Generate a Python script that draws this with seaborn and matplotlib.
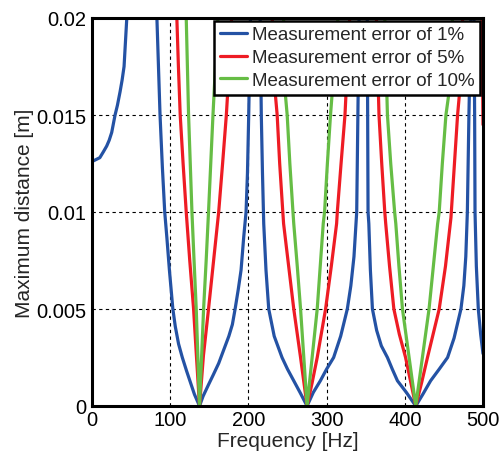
import numpy as np
import pandas as pd
import matplotlib
matplotlib.use("Agg")
import matplotlib.pyplot as plt
from matplotlib.lines import Line2D
import seaborn as sns

nan = np.nan

# Maximum distance [m] versus frequency [Hz]; NaN separates branches between poles
err1_freq = [0, 5, 10, 14.5, 18.8, 22, 25.2, 29.5, 32.5, 35.9, 38.5, 41, 44.5, 46, nan,
             81.5, 83, 85, 87, 90, 93, 95.7, 99, 103.4, 106.5, 110.7, 115.5, 121, 126, 131, 137.5,
             142, 149, 155, 162, 168.5, 175, 179.5, 183, 187, 190.6, 194, 197, 198.8, 200.4, 202.6, 203.5, nan,
             214, 215, 216.5, 218, 219.6, 222.5, 226, 233, 243, 250, 258, 266, 275,
             283, 292, 300, 309, 318, 326.5, 331, 335, 338.5, 340, 341.5, 342, nan,
             351.5, 352, 352.5, 353, 354, 356, 358.6, 364, 370, 377.8, 384, 390.6, 402, 414,
             423, 433, 444, 454.7, 463, 471.8, 475.5, 478, 480, 482, 484.5, 485, nan,
             488, 488.5, 489.3, 489.8, 491.5, 494, 497, 500]
err1_dist = [0.0126, 0.0127, 0.0128, 0.0131, 0.0134, 0.0137, 0.0141, 0.0150, 0.0155, 0.0162, 0.0168, 0.0175, 0.0200, 0.0215, nan,
             0.0215, 0.0200, 0.0175, 0.0150, 0.0123, 0.0100, 0.0087, 0.0070, 0.0050, 0.0041, 0.0032, 0.0025, 0.0018, 0.0012, 0.0006, 0.0,
             0.0005, 0.0011, 0.0016, 0.0022, 0.0029, 0.0036, 0.0042, 0.0050, 0.0060, 0.0070, 0.0087, 0.0100, 0.0120, 0.0150, 0.0200, 0.0215, nan,
             0.0215, 0.0200, 0.0150, 0.0120, 0.0094, 0.0070, 0.0050, 0.0036, 0.0025, 0.0019, 0.0013, 0.0007, 0.0,
             0.0007, 0.0013, 0.0019, 0.0025, 0.0036, 0.0050, 0.0062, 0.0077, 0.0100, 0.0150, 0.0200, 0.0215, nan,
             0.0215, 0.0200, 0.0150, 0.0100, 0.0094, 0.0070, 0.0050, 0.0039, 0.0031, 0.0025, 0.0019, 0.0013, 0.0007, 0.0,
             0.0006, 0.0013, 0.0019, 0.0025, 0.0035, 0.0050, 0.0062, 0.0077, 0.0100, 0.0150, 0.0200, 0.0215, nan,
             0.0215, 0.0200, 0.0150, 0.0100, 0.0072, 0.0050, 0.0037, 0.0027]

err5_freq = [107.5, 108.5, 110.5, 112.8, 116.5, 120.5, 125, 129.9, 133.5, 137.5,
             142.5, 149, 155.5, 162, 167, 171.8, 175.5, 178.5, 179.5, nan,
             229.5, 230.5, 234.6, 236.8, 240, 244, 245, 251.5, 258, 266.7, 275,
             281.5, 288, 298.7, 306, 312.8, 313.7, 318.5, 323.5, 326.5, 329.5, 330.5, nan,
             363, 363.7, 367, 370.5, 374.4, 375.6, 380.5, 386, 393, 401, 414,
             421.5, 429, 444, 452, 459, 463.5, 467.5, 469.7, 474, 475, nan,
             498.3, 498.7, 500]
err5_dist = [0.0215, 0.0200, 0.0175, 0.0150, 0.0125, 0.0100, 0.0075, 0.0050, 0.0026, 0.0,
             0.0026, 0.0050, 0.0075, 0.0100, 0.0125, 0.0150, 0.0175, 0.0200, 0.0215, nan,
             0.0215, 0.0200, 0.0160, 0.0150, 0.0125, 0.0100, 0.0094, 0.0072, 0.0050, 0.0025, 0.0,
             0.0012, 0.0025, 0.0050, 0.0072, 0.0094, 0.0100, 0.0125, 0.0150, 0.0175, 0.0200, 0.0215, nan,
             0.0215, 0.0200, 0.0150, 0.0125, 0.0100, 0.0094, 0.0072, 0.0050, 0.0037, 0.0025, 0.0,
             0.0012, 0.0025, 0.0050, 0.0072, 0.0097, 0.0125, 0.0150, 0.0160, 0.0200, 0.0215, nan,
             0.0215, 0.0200, 0.0145]

err10_freq = [120, 120.5, 123.5, 127.8, 130.5, 133.3, 137.5, 142.7, 146, 149, 154.7, 161, 161.5, nan,
              244.5, 245, 247.4, 249.6, 253, 257, 258, 262.5, 266.7, 275,
              281.5, 288, 295.7, 297.4, 301, 305, 314.5, 315, nan,
              374, 374.4, 377.8, 382, 387, 388.5, 392.5, 397, 414,
              422.5, 431, 442, 444, 448, 452.6, 456, 461, 461.5]
err10_dist = [0.0215, 0.0200, 0.0150, 0.0100, 0.0075, 0.0050, 0.0, 0.0050, 0.0075, 0.0100, 0.0150, 0.0200, 0.0215, nan,
              0.0215, 0.0200, 0.0160, 0.0150, 0.0125, 0.0100, 0.0094, 0.0072, 0.0050, 0.0,
              0.0025, 0.0050, 0.0094, 0.0100, 0.0125, 0.0150, 0.0200, 0.0215, nan,
              0.0215, 0.0200, 0.0150, 0.0125, 0.0100, 0.0094, 0.0072, 0.0050, 0.0,
              0.0025, 0.0050, 0.0094, 0.0100, 0.0125, 0.0150, 0.0160, 0.0200, 0.0215]

series_labels = ["Measurement error of 1%", "Measurement error of 5%", "Measurement error of 10%"]
series_colors = ["#2452A4", "#EE1C24", "#66BD45"]

x_ticks = [0, 100, 200, 300, 400, 500]
y_ticks = [0, 0.005, 0.01, 0.015, 0.02]
y_tick_labels = ["0", "0.005", "0.01", "0.015", "0.02"]


def to_frame(freq, dist, label):
    f = np.asarray(freq, dtype=float)
    d = np.asarray(dist, dtype=float)
    seg = np.cumsum(np.isnan(f))
    keep = ~np.isnan(f)
    return pd.DataFrame({"freq": f[keep], "dist": d[keep],
                         "segment": [f"{label}-{s}" for s in seg[keep]],
                         "series": label})


df = pd.concat([
    to_frame(err1_freq, err1_dist, series_labels[0]),
    to_frame(err5_freq, err5_dist, series_labels[1]),
    to_frame(err10_freq, err10_dist, series_labels[2]),
], ignore_index=True)

sns.set_style("white")
plt.rcParams["font.family"] = ["Liberation Sans", "DejaVu Sans"]

fig = plt.figure(figsize=(5.01, 4.52), dpi=100)
ax = fig.add_axes([92 / 501, 1 - 407 / 452, 391 / 501, 388 / 452])

sns.lineplot(data=df, x="freq", y="dist", hue="series", units="segment",
             estimator=None, sort=False, hue_order=series_labels,
             palette=series_colors, linewidth=2.3, legend=False, ax=ax,
             zorder=3)

ax.set_xlim(0, 500)
ax.set_ylim(0, 0.02)
ax.set_xticks(x_ticks)
ax.set_xticklabels([str(t) for t in x_ticks])
ax.set_yticks(y_ticks)
ax.set_yticklabels(y_tick_labels)
ax.tick_params(axis="both", direction="in", length=3, width=1, labelsize=14.5,
               pad=3, colors="black")
ax.tick_params(axis="y", pad=4)

ax.grid(True, color="black", linestyle=(0, (3, 3)), linewidth=0.8)
ax.set_axisbelow(True)
for sp in ax.spines.values():
    sp.set_visible(True)
    sp.set_color("black")
    sp.set_linewidth(2.2)
    sp.set_zorder(5)

ax.set_xlabel("Frequency [Hz]", fontsize=15, labelpad=1)
ax.set_ylabel("Maximum distance [m]", fontsize=15, labelpad=2)

handles = [Line2D([0], [0], color=c, lw=2.3) for c in series_colors]
leg = ax.legend(handles, series_labels, loc="upper right",
                bbox_to_anchor=(0.992, 0.993), borderaxespad=0,
                fontsize=13.5, frameon=True, fancybox=False,
                handlelength=1.45, handletextpad=0.25, labelspacing=0.3,
                borderpad=0.3)
frame = leg.get_frame()
frame.set_edgecolor("black")
frame.set_linewidth(1.8)
frame.set_facecolor("white")
frame.set_alpha(1)
leg.set_zorder(6)

fig.savefig("out.png", dpi=100)
